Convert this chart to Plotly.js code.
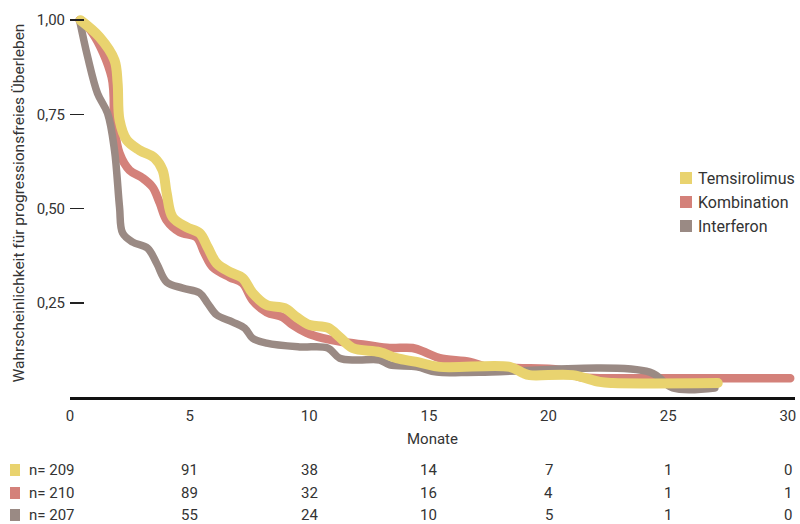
<!DOCTYPE html>
<html>
<head>
<meta charset="utf-8">
<script src="https://cdn.plot.ly/plotly-3.0.1.min.js"></script>
<style>
  html, body { margin: 0; padding: 0; background: #fff; }
  #chart { width: 800px; height: 524px; }
  .js-line { stroke-linecap: round; stroke-linejoin: round; }
</style>
</head>
<body>
<div id="chart"></div>
<script>
// ---- data ----
const seriesNames = ["Temsirolimus", "Kombination", "Interferon"];
const seriesColors = ["#E9D36F", "#D4817A", "#9A8A84"];

const temsMonths = [0.44, 1.24, 1.86, 1.99, 2.07, 2.37, 2.91, 3.54, 3.87, 4.04, 4.29, 4.87, 5.42, 5.75, 6.13, 6.67, 7.21, 7.63, 8.22, 8.97, 9.47, 10.02, 10.77, 11.27, 11.81, 12.94, 13.65, 14.49, 15.45, 18.38, 18.92, 19.21, 21.01, 22.14, 22.68, 27.07];
const temsValues = [1.0, 0.955, 0.894, 0.833, 0.735, 0.682, 0.655, 0.634, 0.602, 0.541, 0.477, 0.451, 0.435, 0.398, 0.355, 0.332, 0.316, 0.276, 0.244, 0.236, 0.212, 0.191, 0.184, 0.159, 0.130, 0.119, 0.103, 0.093, 0.080, 0.080, 0.064, 0.058, 0.058, 0.040, 0.037, 0.037];

const kombMonths = [0.40, 0.94, 1.74, 1.86, 2.07, 2.49, 3.04, 3.45, 3.75, 4.04, 4.58, 5.29, 5.62, 5.96, 6.67, 7.21, 7.63, 8.22, 8.89, 9.31, 9.89, 10.56, 11.4, 12.4, 13.36, 14.32, 14.91, 15.45, 16.71, 17.42, 18.67, 20.47, 21.3, 22.14, 24.77, 30.1];
const kombValues = [1.0, 0.966, 0.849, 0.716, 0.647, 0.602, 0.581, 0.557, 0.515, 0.469, 0.438, 0.424, 0.382, 0.345, 0.318, 0.302, 0.257, 0.225, 0.212, 0.191, 0.170, 0.156, 0.146, 0.138, 0.130, 0.130, 0.117, 0.103, 0.093, 0.080, 0.077, 0.072, 0.053, 0.050, 0.050, 0.050];

const interMonths = [0.40, 0.74, 1.15, 1.57, 1.86, 2.07, 2.20, 2.62, 3.24, 3.62, 4.04, 4.71, 5.42, 5.75, 6.13, 6.80, 7.30, 7.63, 8.22, 9.60, 10.77, 11.27, 11.98, 12.94, 13.36, 14.49, 15.33, 17.12, 24.23, 25.19, 26.95];
const interValues = [1.0, 0.902, 0.806, 0.753, 0.655, 0.504, 0.435, 0.411, 0.395, 0.355, 0.305, 0.289, 0.276, 0.249, 0.218, 0.199, 0.183, 0.156, 0.143, 0.133, 0.130, 0.103, 0.098, 0.098, 0.085, 0.080, 0.066, 0.066, 0.066, 0.024, 0.024];

const xTickVals = [0, 5, 10, 15, 20, 25, 30];
const yTickVals = [0.25, 0.5, 0.75, 1.0];
const yTickText = ["0,25", "0,50", "0,75", "1,00"];

const atRiskStart = ["n= 209", "n= 210", "n= 207"];
const atRiskMonths = [5, 10, 15, 20, 25, 30];
const atRiskTems = [91, 38, 14, 7, 1, 0];
const atRiskKomb = [89, 32, 16, 4, 1, 1];
const atRiskInter = [55, 24, 10, 5, 1, 0];

// ---- layout helpers ----
const W = 800, H = 524;
const M = { l: 70, r: 5, t: 9, b: 127 };
const PW = W - M.l - M.r, PH = H - M.t - M.b;
const px2paperX = px => (px - M.l) / PW;
const px2paperY = py => (H - M.b - py) / PH;

const FONT = "Roboto, 'Liberation Sans', sans-serif";
const TXT = "#333333";

function lineTrace(x, y, color, width) {
  return {
    x: x, y: y, type: "scatter", mode: "lines",
    line: { color: color, width: width, shape: "spline", smoothing: 1.0 },
    showlegend: false, hoverinfo: "skip"
  };
}

const traces = [
  lineTrace(kombMonths, kombValues, seriesColors[1], 8.5),
  lineTrace(interMonths, interValues, seriesColors[2], 7.5),
  lineTrace(temsMonths, temsValues, seriesColors[0], 10)
];

const shapes = [];
const annotations = [];

// legend (swatches + labels)
const legendY = [178, 202, 226];
seriesNames.forEach((name, i) => {
  shapes.push({
    type: "rect", xref: "paper", yref: "paper",
    x0: px2paperX(680), x1: px2paperX(692),
    y0: px2paperY(legendY[i] + 6), y1: px2paperY(legendY[i] - 6),
    fillcolor: seriesColors[i], line: { width: 0 }
  });
  annotations.push({
    xref: "paper", yref: "paper", x: px2paperX(696), y: px2paperY(legendY[i]),
    xanchor: "left", yanchor: "middle", text: name, showarrow: false,
    font: { family: FONT, size: 16, color: TXT }
  });
});

// at-risk table
const rowY = [470, 493, 515];
const rowVals = [atRiskTems, atRiskKomb, atRiskInter];
rowY.forEach((py, i) => {
  shapes.push({
    type: "rect", xref: "paper", yref: "paper",
    x0: px2paperX(10), x1: px2paperX(20),
    y0: px2paperY(py + 6), y1: px2paperY(py - 6),
    fillcolor: seriesColors[i], line: { width: 0 }
  });
  annotations.push({
    xref: "paper", yref: "paper", x: px2paperX(27), y: px2paperY(py),
    xanchor: "left", yanchor: "middle", text: atRiskStart[i], showarrow: false,
    font: { family: FONT, size: 15, color: TXT }
  });
  atRiskMonths.forEach((m, j) => {
    annotations.push({
      xref: "x", yref: "paper", x: m, y: px2paperY(py),
      xanchor: "center", yanchor: "middle", text: String(rowVals[i][j]), showarrow: false,
      font: { family: FONT, size: 15, color: TXT }
    });
  });
});

const layout = {
  width: W, height: H,
  margin: M,
  paper_bgcolor: "#fff", plot_bgcolor: "#fff",
  separators: ",.",
  font: { family: FONT, size: 15, color: TXT },
  showlegend: false,
  xaxis: {
    range: [0, 30.3], tickvals: xTickVals, ticks: "",
    showgrid: false, zeroline: false,
    showline: true, linecolor: "#111", linewidth: 2.5,
    tickfont: { family: FONT, size: 15, color: TXT },
    ticklabelstandoff: 3,
    title: { text: "Monate", font: { family: FONT, size: 15, color: TXT }, standoff: 10 },
    fixedrange: true
  },
  yaxis: {
    range: [0, PH / 376.8], tickvals: yTickVals, ticktext: yTickText,
    ticks: "inside", ticklen: 14, tickwidth: 1.5, tickcolor: "#222",
    ticklabelstandoff: 4,
    showgrid: false, zeroline: false, showline: false,
    tickfont: { family: FONT, size: 15, color: TXT },
    title: { text: "Wahrscheinlichkeit für progressionsfreies Überleben", font: { family: FONT, size: 15.5, color: TXT }, standoff: 8 },
    fixedrange: true
  },
  shapes: shapes,
  annotations: annotations
};

Plotly.newPlot("chart", traces, layout, { staticPlot: true });
</script>
</body>
</html>
